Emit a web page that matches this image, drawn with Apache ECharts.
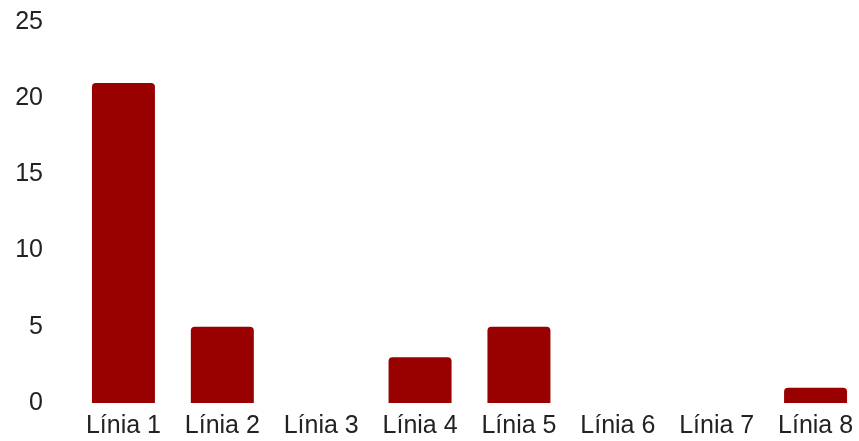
<!DOCTYPE html>
<html>
<head>
<meta charset="utf-8">
<script src="https://cdn.jsdelivr.net/npm/echarts@6/dist/echarts.min.js"></script>
<style>
  html, body { margin: 0; padding: 0; background: #fff; }
  #chart { width: 859px; height: 441px; }
</style>
</head>
<body>
<div id="chart"></div>
<script>
// categories and values
const categories = ["Línia 1", "Línia 2", "Línia 3", "Línia 4", "Línia 5", "Línia 6", "Línia 7", "Línia 8"];
const values = [21, 5, 0, 3, 5, 0, 0, 1];
const yTicks = [0, 5, 10, 15, 20, 25];

const myChart = echarts.init(document.getElementById("chart"));

const options = {
  animation: false,
  grid: {
    top: 22,
    bottom: 38,
    left: 74,
    right: -6,
    outerBoundsMode: "none",
  },
  xAxis: {
    type: "category",
    data: categories,
    axisLine: { show: false },
    axisTick: { show: false },
    axisLabel: {
      color: "#222",
      fontFamily: "Liberation Sans",
      fontSize: 25,
      margin: 11,
      interval: 0,
    },
  },
  yAxis: {
    type: "value",
    min: yTicks[0],
    max: yTicks[yTicks.length - 1],
    interval: 5,
    splitLine: { show: false },
    axisLine: { show: false },
    axisTick: { show: false },
    axisLabel: {
      color: "#222",
      fontFamily: "Liberation Sans",
      fontSize: 25,
      margin: 31,
    },
  },
  series: [
    {
      type: "bar",
      data: values,
      barWidth: 63,
      itemStyle: {
        color: "#990000",
        borderRadius: [4, 4, 0, 0],
      },
    },
  ],
};

myChart.setOption(options);
</script>
</body>
</html>
